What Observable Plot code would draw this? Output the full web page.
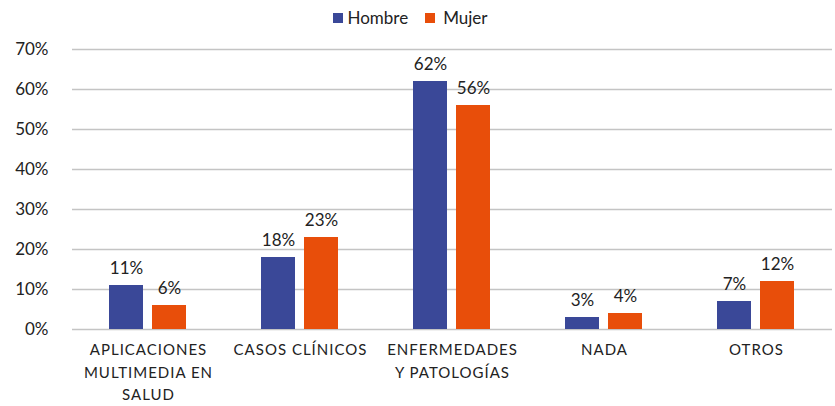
<!DOCTYPE html>
<html>
<head>
<meta charset="utf-8">
<script src="https://cdn.jsdelivr.net/npm/d3@7"></script>
<script src="https://cdn.jsdelivr.net/npm/@observablehq/plot@0.6"></script>
<style>
  body { margin: 0; background: #fff; font-family: Lato, "Open Sans", sans-serif; }
  #legend { height: 35px; display: flex; justify-content: center; align-items: center; gap: 0; font-size: 17px; color: #222; padding-left: 3px; }
  .item { display: flex; align-items: center; margin: 0 17px 0 0; }
  .sw { width: 10px; height: 10px; display: inline-block; margin-right: 4px; }
  .item2 .sw { margin-right: 8px; }
</style>
</head>
<body>
<div id="legend"></div>
<div id="chart"></div>
<script>
const categories = ["APLICACIONES\nMULTIMEDIA EN\nSALUD", "CASOS CLÍNICOS", "ENFERMEDADES\nY PATOLOGÍAS", "NADA", "OTROS"];
const series = ["Hombre", "Mujer"];
const hombre = [11, 18, 62, 3, 7];
const mujer = [6, 23, 56, 4, 12];
const colors = ["#3A4898", "#E84E0A"];
const yTicks = [0, 10, 20, 30, 40, 50, 60, 70];

const data = [];
categories.forEach((c, i) => {
  data.push({cat: c, sex: "Hombre", value: hombre[i]});
  data.push({cat: c, sex: "Mujer", value: mujer[i]});
});

const legend = document.getElementById("legend");
series.forEach((s, i) => {
  const d = document.createElement("span");
  d.className = "item item" + (i + 1);
  d.innerHTML = `<span class="sw" style="background:${colors[i]}"></span>${s}`;
  legend.appendChild(d);
});

const chart = Plot.plot({
  width: 835,
  height: 371,
  marginTop: 14,
  marginBottom: 77,
  marginLeft: 70,
  marginRight: 2,
  style: {fontFamily: "Lato, 'Open Sans', sans-serif", fontSize: "17px", color: "#222"},
  fx: {domain: categories, padding: 0, label: null, axis: null},
  x: {domain: series, paddingInner: 0.2, paddingOuter: 0.84, axis: null},
  y: {domain: [0, 70], label: null},
  color: {domain: series, range: colors},
  marks: [
    Plot.gridY(yTicks, {stroke: "#c4c4c4", strokeOpacity: 1, strokeWidth: 1.5}),
    Plot.axisY(yTicks, {tickSize: 0, tickPadding: 24, tickFormat: d => d + "%", fontSize: 17, label: null}),
    Plot.axisFx({anchor: "bottom", tickSize: 0, tickPadding: 10, fontSize: 15, lineHeight: 1.5, label: null}),
    Plot.barY(data, {fx: "cat", x: "sex", y: "value", fill: "sex"}),
    Plot.text(data, {fx: "cat", x: "sex", y: "value", text: d => d.value + "%", dy: -17, fontSize: 17, fill: "#222"})
  ]
});
document.getElementById("chart").appendChild(chart);
d3.select(chart).selectAll('g[aria-label="fx-axis tick label"] text').style("letter-spacing", "1px");
</script>
</body>
</html>
